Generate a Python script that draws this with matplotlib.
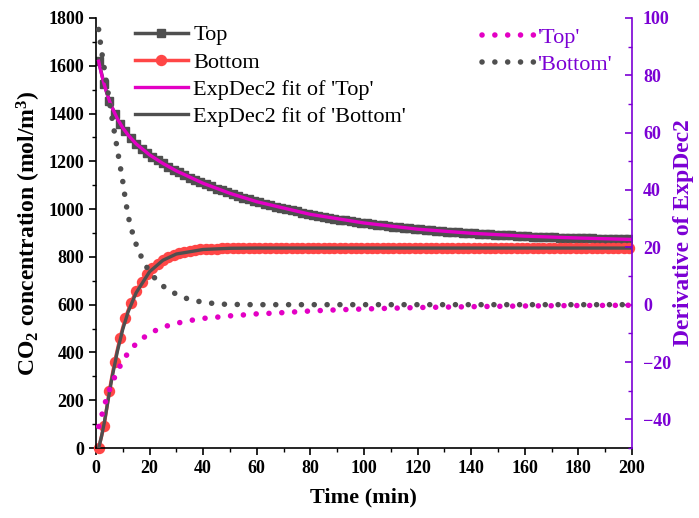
import matplotlib
matplotlib.use('Agg')
import matplotlib.pyplot as plt
from matplotlib.ticker import MultipleLocator

plt.rcParams['font.family'] = ['Liberation Serif', 'DejaVu Serif']
plt.rcParams['font.weight'] = 'bold'
plt.rcParams['mathtext.fontset'] = 'custom'
plt.rcParams['mathtext.rm'] = 'Liberation Serif:bold'
plt.rcParams['mathtext.bf'] = 'Liberation Serif:bold'
plt.rcParams['mathtext.it'] = 'Liberation Serif:bold'

# ---------------- data ----------------
time = list(range(1, 200, 2))
top = [1619, 1525, 1454, 1400, 1358, 1325, 1297, 1273, 1253, 1235,
       1219, 1204, 1191, 1178, 1165, 1154, 1143, 1132, 1122, 1113,
       1103, 1095, 1086, 1078, 1070, 1062, 1055, 1048, 1041, 1034,
       1028, 1022, 1016, 1010, 1005, 1000, 995, 990, 985, 980,
       976, 972, 968, 964, 960, 956, 953, 950, 946, 943,
       940, 937, 934, 932, 929, 927, 924, 922, 920, 917,
       915, 913, 911, 910, 908, 906, 904, 903, 901, 900,
       898, 897, 896, 894, 893, 892, 891, 890, 888, 887,
       886, 885, 885, 884, 883, 882, 881, 880, 880, 879,
       878, 878, 877, 876, 876, 875, 875, 874, 874, 873]
bottom = [0, 92, 240, 362, 462, 545, 607, 657, 696, 727,
          752, 771, 787, 799, 808, 815, 821, 825, 828, 831,
          833, 834, 835, 836, 836, 837, 837, 837, 837, 837,
          837, 837, 837, 837, 837, 837, 837, 837, 837, 837,
          837, 837, 837, 837, 837, 837, 837, 837, 837, 837,
          837, 837, 837, 837, 837, 837, 837, 837, 837, 837,
          837, 837, 837, 837, 837, 837, 837, 837, 837, 837,
          837, 837, 837, 837, 837, 837, 837, 837, 837, 837,
          837, 837, 837, 837, 837, 837, 837, 837, 837, 837,
          837, 837, 837, 837, 837, 837, 837, 837, 837, 837]

fit_time = [1, 2, 3, 4, 5, 6, 8, 10, 12, 15, 20, 25, 30, 40, 50, 60,
            80, 100, 120, 140, 160, 180, 200]
top_fit = [1619, 1568, 1525, 1487, 1454, 1425, 1378, 1340, 1310, 1273,
           1227, 1191, 1160, 1108, 1066, 1031, 978, 942, 916, 899, 887,
           879, 873]
bottom_fit = [0, 45, 100, 165, 232, 295, 405, 497, 570, 650, 738, 786,
              812, 831, 836, 837, 837, 837, 837, 837, 837, 837, 837]

d_top_time = [1, 2, 3, 4, 5, 6, 8, 10, 12.7, 16, 20, 24.5, 29, 33.6, 38.2,
              42.8, 47.4, 52, 57, 61, 66, 71, 80, 90, 100, 120, 140, 160,
              180, 200]
d_top = [-42.5, -39.2, -35.6, -32.5, -29.8, -27.3, -23.2, -19.6, -15.8,
         -12.7, -10, -8, -6.7, -5.8, -5, -4.5, -4.2, -3.7, -3.5, -3.1, -3.0,
         -2.7, -2.2, -1.8, -1.5, -1.0, -0.7, -0.45, -0.3, -0.2]
d_bot_time = [1, 2, 3, 4, 5, 6, 7, 8, 9, 10, 11, 12, 13, 14, 15, 17, 19, 22,
              25, 28, 30, 34, 39, 44, 48, 55, 60, 80, 100, 120, 140, 160,
              180, 200]
d_bot = [96, 89, 83, 77, 71, 65, 59.5, 54, 48.5, 43, 36.5, 31, 27, 24, 21,
         16.5, 13, 9.2, 6.5, 4.6, 3.7, 2.1, 1.0, 0.4, 0.15, 0.03, 0.0, 0.0,
         0.0, 0.0, 0.0, 0.0, 0.0, 0.0]

# ---------------- styles ----------------
GRAY = '#4f4f4f'
RED = '#ff4646'
MAG = '#e300c4'
PURPLE = '#7b00d4'

fig = plt.figure(figsize=(6.99, 5.18), dpi=100)
ax = fig.add_axes([0.1373, 0.1351, 0.7667, 0.8302])

ax.plot(time, top, color=GRAY, lw=2.5, marker='s', ms=6.3, mec=GRAY,
        label='Top', zorder=2)
ax.plot(time, bottom, color=RED, lw=2.5, marker='o', ms=7.2, mec=RED,
        label='Bottom', zorder=2, clip_on=False)
ax.plot(fit_time, top_fit, color=MAG, lw=2.4, label="ExpDec2 fit of 'Top'",
        zorder=3)
ax.plot(fit_time, bottom_fit, color=GRAY, lw=2.4,
        label="ExpDec2 fit of 'Bottom'", zorder=3)

ax.set_xlim(0, 200)
ax.set_ylim(0, 1800)
ax.xaxis.set_major_locator(MultipleLocator(20))
ax.xaxis.set_minor_locator(MultipleLocator(10))
ax.yaxis.set_major_locator(MultipleLocator(200))
ax.yaxis.set_minor_locator(MultipleLocator(100))
ax.spines['top'].set_visible(False)
ax.spines['right'].set_visible(False)
for s in ('left', 'bottom'):
    ax.spines[s].set_linewidth(1.2)
ax.tick_params(which='major', direction='out', length=5, width=1.2,
               labelsize=13)
ax.tick_params(which='minor', direction='out', length=3, width=1.0)
ax.set_xlabel('Time (min)', fontsize=16, fontweight='bold', labelpad=8)
ax.set_ylabel('CO$_2$ concentration (mol/m$^3$)', fontsize=17,
              fontweight='bold', labelpad=4)

leg1 = ax.legend(loc='upper left', bbox_to_anchor=(0.072, 0.984),
                 frameon=False, prop={'family': 'Liberation Serif',
                                      'weight': 'normal', 'size': 16},
                 handlelength=2.4, handletextpad=0.25, labelspacing=0.3,
                 borderaxespad=0, borderpad=0)

ax2 = ax.twinx()
ax2.plot(d_top_time, d_top, color=MAG, lw=4.0, ls=(0, (0.01, 2.3)),
         dash_capstyle='round', label="'Top'")
ax2.plot(d_bot_time, d_bot, color=GRAY, lw=4.0, ls=(0, (0.01, 2.3)),
         dash_capstyle='round', label="'Bottom'")
ax2.set_ylim(-50, 100)
ax2.yaxis.set_major_locator(MultipleLocator(20))
ax2.yaxis.set_minor_locator(MultipleLocator(10))
for s in ('left', 'top', 'bottom'):
    ax2.spines[s].set_visible(False)
ax2.spines['right'].set_color(PURPLE)
ax2.spines['right'].set_linewidth(1.2)
ax2.tick_params(which='major', direction='in', length=5, width=1.2,
                color=PURPLE, labelcolor=PURPLE, labelsize=13, pad=8)
ax2.tick_params(which='minor', direction='in', length=3, width=1.0,
                color=PURPLE)
ax2.set_ylabel('Derivative of ExpDec2', fontsize=17, fontweight='bold',
               color=PURPLE, labelpad=1)

leg2 = ax2.legend(loc='upper left', bbox_to_anchor=(0.72, 0.978),
                  frameon=False, prop={'family': 'Liberation Serif',
                                       'weight': 'normal', 'size': 16},
                  labelcolor=PURPLE, handlelength=2.4, handletextpad=0.1,
                  labelspacing=0.3, borderaxespad=0, borderpad=0)

fig.savefig('out.png', dpi=100)
